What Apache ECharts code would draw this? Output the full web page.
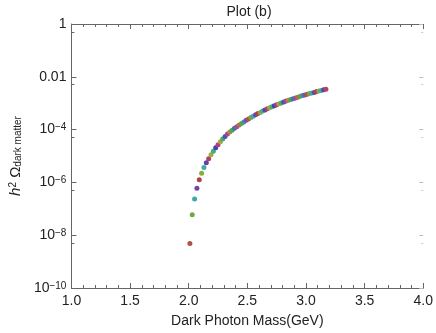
<!DOCTYPE html>
<html>
<head>
<meta charset="utf-8">
<script src="https://cdn.jsdelivr.net/npm/echarts@6/dist/echarts.min.js"></script>
<style>
  html, body { margin: 0; padding: 0; background: #fff; }
  #chart { width: 436px; height: 333px; }
</style>
</head>
<body>
<div id="chart"></div>
<script>
// dark photon mass (GeV)
const masses = [
  2.01, 2.03, 2.05, 2.07, 2.09, 2.11, 2.13, 2.15, 2.17, 2.19,
  2.21, 2.23, 2.25, 2.27, 2.29, 2.31, 2.33, 2.35, 2.37, 2.39,
  2.41, 2.43, 2.45, 2.47, 2.49, 2.51, 2.53, 2.55, 2.57, 2.59,
  2.61, 2.63, 2.65, 2.67, 2.69, 2.71, 2.73, 2.75, 2.77, 2.79,
  2.81, 2.83, 2.85, 2.87, 2.89, 2.91, 2.93, 2.95, 2.97, 2.99,
  3.01, 3.03, 3.05, 3.07, 3.09, 3.11, 3.13, 3.15, 3.17
]
// log10 of h^2 Omega
const logOmega = [
  -8.31, -7.23, -6.63, -6.22, -5.90, -5.65, -5.44, -5.26, -5.10, -4.95,
  -4.82, -4.69, -4.57, -4.46, -4.36, -4.26, -4.17, -4.09, -4.02, -3.95,
  -3.89, -3.83, -3.77, -3.71, -3.65, -3.60, -3.54, -3.49, -3.44, -3.39,
  -3.35, -3.30, -3.26, -3.21, -3.17, -3.13, -3.10, -3.06, -3.02, -2.99,
  -2.95, -2.92, -2.89, -2.86, -2.83, -2.80, -2.77, -2.74, -2.71, -2.69,
  -2.66, -2.63, -2.61, -2.59, -2.56, -2.54, -2.52, -2.49, -2.47
]
const xTicks = [1.0, 1.5, 2.0, 2.5, 3.0, 3.5, 4.0]

const points = masses.map((m, i) => [m, Math.pow(10, logOmega[i])])

// each point gets its own hue, stepping round the wheel
function hsv(h, s, v) {
  const i = Math.floor(h * 6)
  const f = h * 6 - i
  const p = v * (1 - s), q = v * (1 - f * s), t = v * (1 - (1 - f) * s)
  const rgb = [[v, t, p], [q, v, p], [p, v, t], [p, q, v], [t, p, v], [v, p, q]][i % 6]
  return '#' + rgb.map(c => Math.round(c * 255).toString(16).padStart(2, '0')).join('')
}
const dotColor = idx => hsv((0.03 + 0.24 * idx) % 1, 0.62, 0.68)

const font = 'Liberation Sans, Arial, sans-serif'
const axisGray = '#666'

const yLabel = v => {
  const e = Math.round(Math.log10(v))
  if (e === 0) return '1'
  if (e === -2) return '0.01'
  return '10{sup|\u2212' + (-e) + '}'
}

const chart = echarts.init(document.getElementById('chart'), null, { renderer: 'canvas' })
chart.setOption({
  animation: false,
  backgroundColor: '#fff',
  title: {
    text: 'Plot (b)',
    left: 244,
    top: 0,
    textAlign: 'center',
    textStyle: { fontFamily: font, fontSize: 14, fontWeight: 'normal', color: '#222' }
  },
  grid: { left: 62, right: 9, top: 24, bottom: 45 },
  xAxis: [
    {
      type: 'value',
      min: 1, max: 4, interval: 0.5,
      name: 'Dark Photon Mass(GeV)',
      nameLocation: 'middle',
      nameGap: 26,
      nameTextStyle: { fontFamily: font, fontSize: 14, color: '#222' },
      axisLine: { lineStyle: { color: axisGray, width: 1 } },
      axisTick: { inside: true, length: 5, lineStyle: { color: axisGray } },
      minorTick: { show: true, splitNumber: 5, length: 3, lineStyle: { color: axisGray } },
      splitLine: { show: false },
      axisLabel: {
        fontFamily: font, fontSize: 14, color: '#222', margin: 6,
        formatter: v => xTicks.includes(v) ? v.toFixed(1) : ''
      }
    },
    {
      type: 'value',
      position: 'top',
      min: 1, max: 4, interval: 0.5,
      axisLine: { lineStyle: { color: axisGray, width: 1 } },
      axisTick: { inside: true, length: 5, lineStyle: { color: axisGray } },
      minorTick: { show: true, splitNumber: 5, length: 3, lineStyle: { color: axisGray } },
      splitLine: { show: false },
      axisLabel: { show: false }
    }
  ],
  yAxis: [
    {
      type: 'log',
      logBase: 10,
      min: 1e-10, max: 1, interval: 2,
      name: '{i|h}{sup|2} \u03a9{sub|dark matter}',
      nameLocation: 'middle',
      nameRotate: 90,
      nameGap: 45,
      nameTextStyle: {
        fontFamily: font, fontSize: 15, color: '#222',
        rich: {
          i: { fontFamily: font, fontSize: 15, fontStyle: 'italic', color: '#222' },
          sup: { fontFamily: font, fontSize: 10, lineHeight: 10, verticalAlign: 'top', color: '#222' },
          sub: { fontFamily: font, fontSize: 10, lineHeight: 10, verticalAlign: 'bottom', color: '#222' }
        }
      },
      axisLine: { lineStyle: { color: axisGray, width: 1 } },
      axisTick: { inside: true, length: 5, lineStyle: { color: axisGray } },
      minorTick: { show: true, splitNumber: 2, length: 3, lineStyle: { color: axisGray } },
      splitLine: { show: false },
      axisLabel: {
        fontFamily: font, fontSize: 14, color: '#222', margin: 5,
        formatter: yLabel,
        rich: {
          sup: { fontFamily: font, fontSize: 10, lineHeight: 8, verticalAlign: 'top', color: '#222' }
        }
      }
    },
    {
      type: 'log',
      logBase: 10,
      position: 'right',
      min: 1e-10, max: 1, interval: 2,
      axisLine: { show: false },
      axisTick: { inside: true, length: 4, lineStyle: { color: '#bbb' } },
      minorTick: { show: true, splitNumber: 2, length: 2, lineStyle: { color: '#ccc' } },
      splitLine: { show: false },
      axisLabel: { show: false }
    }
  ],
  series: [{
    type: 'scatter',
    data: points,
    symbol: 'circle',
    symbolSize: 5,
    itemStyle: { color: p => dotColor(p.dataIndex), opacity: 1 }
  }]
})
</script>
</body>
</html>
